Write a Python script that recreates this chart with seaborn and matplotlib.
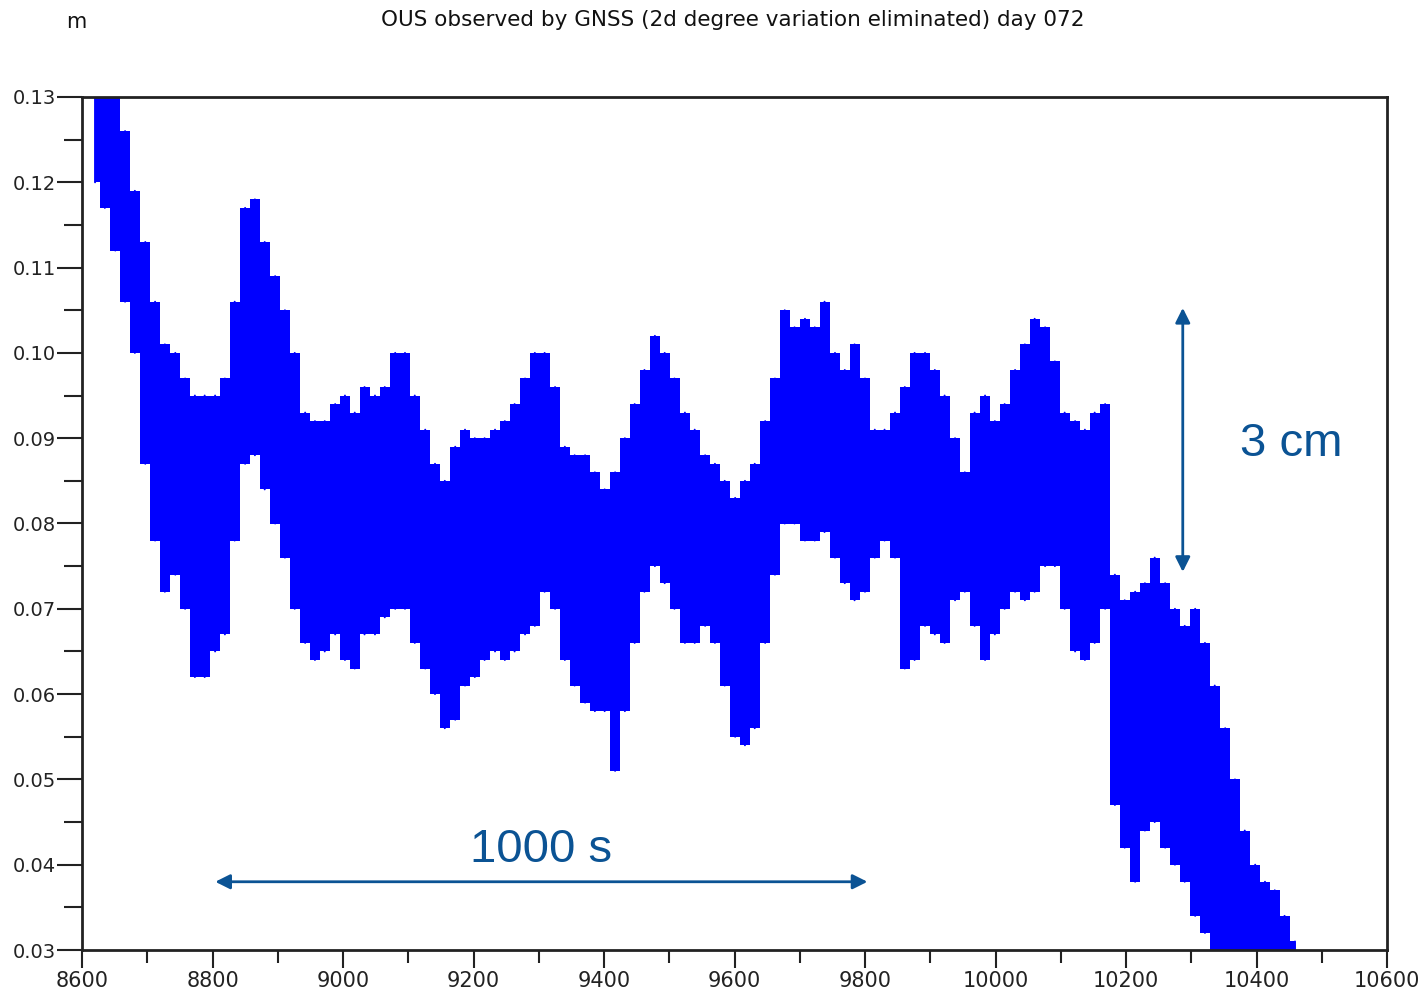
import numpy as np
import pandas as pd
import matplotlib
matplotlib.use("Agg")
import matplotlib.pyplot as plt
import seaborn as sns
from matplotlib.ticker import MultipleLocator

# ---- data (time in s, envelope of signal in m) ----
t = [8620, 8635, 8651, 8666, 8681, 8697, 8712, 8727, 8743, 8758,
     8773, 8788, 8804, 8819, 8834, 8850, 8865, 8880, 8896, 8911,
     8926, 8942, 8957, 8972, 8988, 9003, 9018, 9033, 9049, 9064,
     9080, 9095, 9110, 9126, 9141, 9156, 9172, 9187, 9202, 9217,
     9233, 9248, 9263, 9279, 9294, 9309, 9325, 9340, 9355, 9371,
     9386, 9401, 9417, 9432, 9447, 9462, 9478, 9493, 9508, 9524,
     9539, 9555, 9570, 9585, 9601, 9616, 9631, 9647, 9662, 9677,
     9692, 9708, 9723, 9738, 9754, 9769, 9784, 9800, 9815, 9830,
     9846, 9861, 9876, 9892, 9907, 9922, 9938, 9953, 9968, 9984,
     9999, 10014, 10030, 10045, 10060, 10076, 10091, 10106, 10122, 10137,
     10152, 10168, 10183, 10198, 10214, 10229, 10244, 10260, 10275, 10290,
     10306, 10321, 10336, 10352, 10367, 10382, 10398, 10413, 10428, 10443,
     10459]

upper = [0.135, 0.135, 0.133, 0.126, 0.119, 0.113, 0.106, 0.101, 0.100, 0.097,
         0.095, 0.095, 0.095, 0.097, 0.106, 0.117, 0.118, 0.113, 0.109, 0.105,
         0.100, 0.093, 0.092, 0.092, 0.094, 0.095, 0.093, 0.096, 0.095, 0.096,
         0.100, 0.100, 0.095, 0.091, 0.087, 0.085, 0.089, 0.091, 0.090, 0.090,
         0.091, 0.092, 0.094, 0.097, 0.100, 0.100, 0.096, 0.089, 0.088, 0.088,
         0.086, 0.084, 0.086, 0.090, 0.094, 0.098, 0.102, 0.100, 0.097, 0.093,
         0.091, 0.088, 0.087, 0.085, 0.083, 0.085, 0.087, 0.092, 0.097, 0.105,
         0.103, 0.104, 0.103, 0.106, 0.100, 0.098, 0.101, 0.097, 0.091, 0.091,
         0.093, 0.096, 0.100, 0.100, 0.098, 0.095, 0.090, 0.086, 0.093, 0.095,
         0.092, 0.094, 0.098, 0.101, 0.104, 0.103, 0.099, 0.093, 0.092, 0.091,
         0.093, 0.094, 0.074, 0.071, 0.072, 0.073, 0.076, 0.073, 0.070, 0.068,
         0.070, 0.066, 0.061, 0.056, 0.050, 0.044, 0.040, 0.038, 0.037, 0.034,
         0.031]

lower = [0.120, 0.117, 0.112, 0.106, 0.100, 0.087, 0.078, 0.072, 0.074, 0.070,
         0.062, 0.062, 0.065, 0.067, 0.078, 0.087, 0.088, 0.084, 0.080, 0.076,
         0.070, 0.066, 0.064, 0.065, 0.067, 0.064, 0.063, 0.067, 0.067, 0.069,
         0.070, 0.070, 0.066, 0.063, 0.060, 0.056, 0.057, 0.061, 0.062, 0.064,
         0.065, 0.064, 0.065, 0.067, 0.068, 0.072, 0.070, 0.064, 0.061, 0.059,
         0.058, 0.058, 0.051, 0.058, 0.066, 0.072, 0.075, 0.073, 0.070, 0.066,
         0.066, 0.068, 0.066, 0.061, 0.055, 0.054, 0.056, 0.066, 0.074, 0.080,
         0.080, 0.078, 0.078, 0.079, 0.076, 0.073, 0.071, 0.072, 0.076, 0.078,
         0.076, 0.063, 0.064, 0.068, 0.067, 0.066, 0.071, 0.072, 0.068, 0.064,
         0.067, 0.070, 0.072, 0.071, 0.072, 0.075, 0.075, 0.070, 0.065, 0.064,
         0.066, 0.070, 0.047, 0.042, 0.038, 0.044, 0.045, 0.042, 0.040, 0.038,
         0.034, 0.032, 0.028, 0.028, 0.028, 0.028, 0.028, 0.028, 0.028, 0.028,
         0.028]

x_ticks = [8600, 8800, 9000, 9200, 9400, 9600, 9800, 10000, 10200, 10400, 10600]
y_ticks = [0.03, 0.04, 0.05, 0.06, 0.07, 0.08, 0.09, 0.10, 0.11, 0.12, 0.13]
title = "OUS observed by GNSS (2d degree variation eliminated) day 072"
unit = "m"
span_time = (8800, 9800)
span_height = (0.0743, 0.1053)

# ---- figure ----
sns.set_style("white")
plt.rcParams['font.family'] = ['DejaVu Sans']

fig = plt.figure(figsize=(14.24, 9.91), dpi=100)
ax = fig.add_axes([82 / 1424, 1 - 950 / 991, (1387 - 82) / 1424, (950 - 97) / 991])

BLUE = "#0000ff"
zz = pd.DataFrame({
    "t": np.repeat(t, 2),
    "v": np.ravel(np.column_stack([upper, lower])),
})
ax.fill_between(t, lower, upper, step="mid", color=BLUE, linewidth=0)
sns.lineplot(data=zz, x="t", y="v", sort=False, estimator=None,
             color=BLUE, linewidth=1.4, ax=ax)

ax.set_xlim(8600, 10600)
ax.set_ylim(0.03, 0.13)
ax.set_xticks(x_ticks)
ax.set_yticks(y_ticks)
ax.set_xticklabels([str(v) for v in x_ticks], fontfamily="DejaVu Sans", fontsize=15)
ax.set_yticklabels([f"{v:.2f}" for v in y_ticks], fontfamily="DejaVu Sans", fontsize=14)
ax.xaxis.set_minor_locator(MultipleLocator(100))
ax.yaxis.set_minor_locator(MultipleLocator(0.005))
ax.tick_params(axis="x", which="major", direction="out", length=13, width=1.5,
               color="#222222", labelcolor="#222222", bottom=True, pad=2)
ax.tick_params(axis="x", which="minor", direction="out", length=9, width=1.5,
               color="#222222", bottom=True)
ax.tick_params(axis="y", which="major", direction="out", length=18, width=1.5,
               color="#222222", labelcolor="#222222", left=True, pad=1)
ax.tick_params(axis="y", which="minor", direction="out", length=13, width=1.5,
               color="#222222", left=True)
for s in ax.spines.values():
    s.set_color("#222222")
    s.set_linewidth(2)
ax.set_xlabel("")
ax.set_ylabel("")
ax.grid(False)

fig.text(733 / 1424, 1 - 20 / 991, title, ha="center", va="center",
         fontfamily="DejaVu Sans", fontsize=15.5, color="#111111")
fig.text(76 / 1424, 1 - 22 / 991, unit, ha="center", va="center",
         fontfamily="DejaVu Sans", fontsize=15, color="#111111")

ANN = "#0b5394"
ax.annotate("", xy=(span_time[0], 0.0380), xytext=(span_time[1] + 8, 0.0380),
            arrowprops=dict(arrowstyle="<|-|>", color=ANN, lw=2, mutation_scale=22))
ax.text(sum(span_time) / 2 + 3, 0.0417, "1000 s", ha="center", va="center",
        fontfamily="Liberation Sans", fontsize=34, color=ANN)
ax.annotate("", xy=(10287, span_height[0] - 0.0003), xytext=(10287, span_height[1] + 0.0003),
            arrowprops=dict(arrowstyle="<|-|>", color=ANN, lw=2, mutation_scale=22))
ax.text(10453, 0.0893, "3 cm", ha="center", va="center",
        fontfamily="Liberation Sans", fontsize=34, color=ANN)

fig.savefig("out.png", dpi=100)
